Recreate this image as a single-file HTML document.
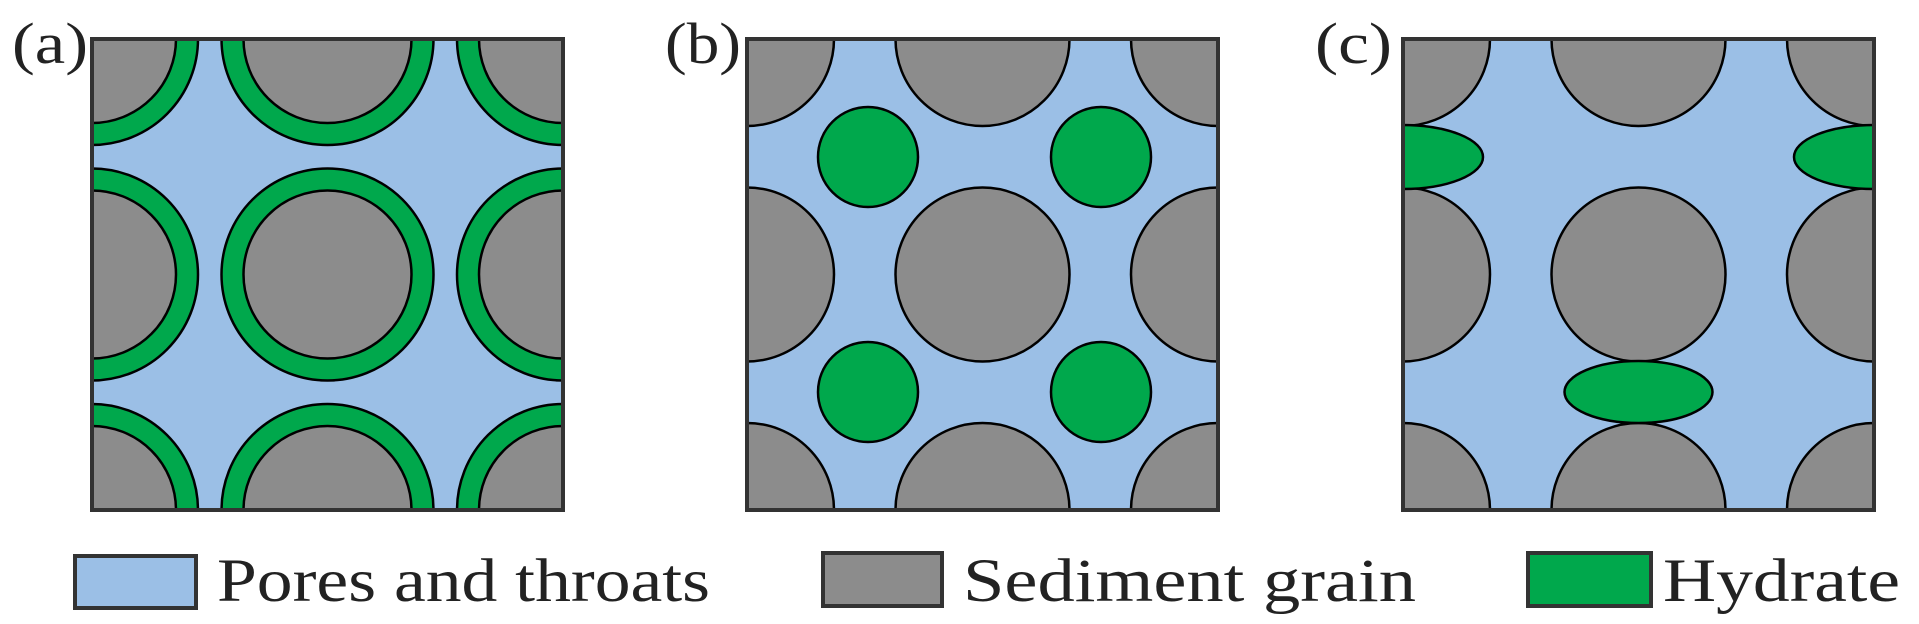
<!DOCTYPE html>
<html><head><meta charset="utf-8"><style>
html,body{margin:0;padding:0;background:#fff;}
svg{display:block;}
text{font-family:"Liberation Serif",serif;fill:#222;}
</style></head><body>
<svg width="1919" height="624" viewBox="0 0 1919 624" xmlns="http://www.w3.org/2000/svg">
<defs>
<clipPath id="ca"><rect x="92" y="39" width="471" height="471"/></clipPath>
<clipPath id="cb"><rect x="747" y="39" width="471" height="471"/></clipPath>
<clipPath id="cc"><rect x="1403" y="39" width="471" height="471"/></clipPath>
</defs>
<g stroke="#000" stroke-width="2.5">
<rect x="92" y="39" width="471" height="471" fill="#9bbfe6" stroke="none"/>
<g clip-path="url(#ca)">
<g fill="#00a84c">
<circle cx="92" cy="39" r="106"/><circle cx="327.5" cy="39" r="106"/><circle cx="563" cy="39" r="106"/>
<circle cx="92" cy="274.5" r="106"/><circle cx="327.5" cy="274.5" r="106"/><circle cx="563" cy="274.5" r="106"/>
<circle cx="92" cy="510" r="106"/><circle cx="327.5" cy="510" r="106"/><circle cx="563" cy="510" r="106"/>
</g>
<g fill="#8c8c8c">
<circle cx="92" cy="39" r="84"/><circle cx="327.5" cy="39" r="84"/><circle cx="563" cy="39" r="84"/>
<circle cx="92" cy="274.5" r="84"/><circle cx="327.5" cy="274.5" r="84"/><circle cx="563" cy="274.5" r="84"/>
<circle cx="92" cy="510" r="84"/><circle cx="327.5" cy="510" r="84"/><circle cx="563" cy="510" r="84"/>
</g>
</g>
<rect x="92" y="39" width="471" height="471" fill="none" stroke="#333" stroke-width="4"/>
<rect x="747" y="39" width="471" height="471" fill="#9bbfe6" stroke="none"/>
<g clip-path="url(#cb)">
<g fill="#8c8c8c">
<circle cx="747" cy="39" r="87"/><circle cx="982.5" cy="39" r="87"/><circle cx="1218" cy="39" r="87"/>
<circle cx="747" cy="274.5" r="87"/><circle cx="982.5" cy="274.5" r="87"/><circle cx="1218" cy="274.5" r="87"/>
<circle cx="747" cy="510" r="87"/><circle cx="982.5" cy="510" r="87"/><circle cx="1218" cy="510" r="87"/>
</g>
<g fill="#00a84c">
<circle cx="868" cy="157" r="50"/><circle cx="1101" cy="157" r="50"/>
<circle cx="868" cy="392" r="50"/><circle cx="1101" cy="392" r="50"/>
</g>
</g>
<rect x="747" y="39" width="471" height="471" fill="none" stroke="#333" stroke-width="4"/>
<rect x="1403" y="39" width="471" height="471" fill="#9bbfe6" stroke="none"/>
<g clip-path="url(#cc)">
<g fill="#8c8c8c">
<circle cx="1403" cy="39" r="87"/><circle cx="1638.5" cy="39" r="87"/><circle cx="1874" cy="39" r="87"/>
<circle cx="1403" cy="274.5" r="87"/><circle cx="1638.5" cy="274.5" r="87"/><circle cx="1874" cy="274.5" r="87"/>
<circle cx="1403" cy="510" r="87"/><circle cx="1638.5" cy="510" r="87"/><circle cx="1874" cy="510" r="87"/>
</g>
<g fill="#00a84c">
<ellipse cx="1403" cy="157" rx="80" ry="32"/>
<ellipse cx="1874" cy="157" rx="80" ry="32"/>
<ellipse cx="1638.5" cy="392" rx="74" ry="31"/>
</g>
</g>
<rect x="1403" y="39" width="471" height="471" fill="none" stroke="#333" stroke-width="4"/>
<rect x="75" y="556" width="121" height="52" fill="#9bbfe6" stroke="#333" stroke-width="4"/>
<rect x="823" y="553" width="119" height="53" fill="#8c8c8c" stroke="#333" stroke-width="4"/>
<rect x="1528" y="553" width="123" height="53" fill="#00a84c" stroke="#333" stroke-width="4"/>
</g>
<text x="12" y="63" font-size="58" textLength="76" lengthAdjust="spacingAndGlyphs">(a)</text>
<text x="665" y="63" font-size="58" textLength="76" lengthAdjust="spacingAndGlyphs">(b)</text>
<text x="1315" y="63" font-size="58" textLength="77" lengthAdjust="spacingAndGlyphs">(c)</text>
<text x="217" y="601" font-size="61" textLength="493" lengthAdjust="spacingAndGlyphs">Pores and throats</text>
<text x="963" y="601" font-size="61" textLength="453" lengthAdjust="spacingAndGlyphs">Sediment  grain</text>
<text x="1663" y="601" font-size="61" textLength="237" lengthAdjust="spacingAndGlyphs">Hydrate</text>
</svg>
</body></html>
